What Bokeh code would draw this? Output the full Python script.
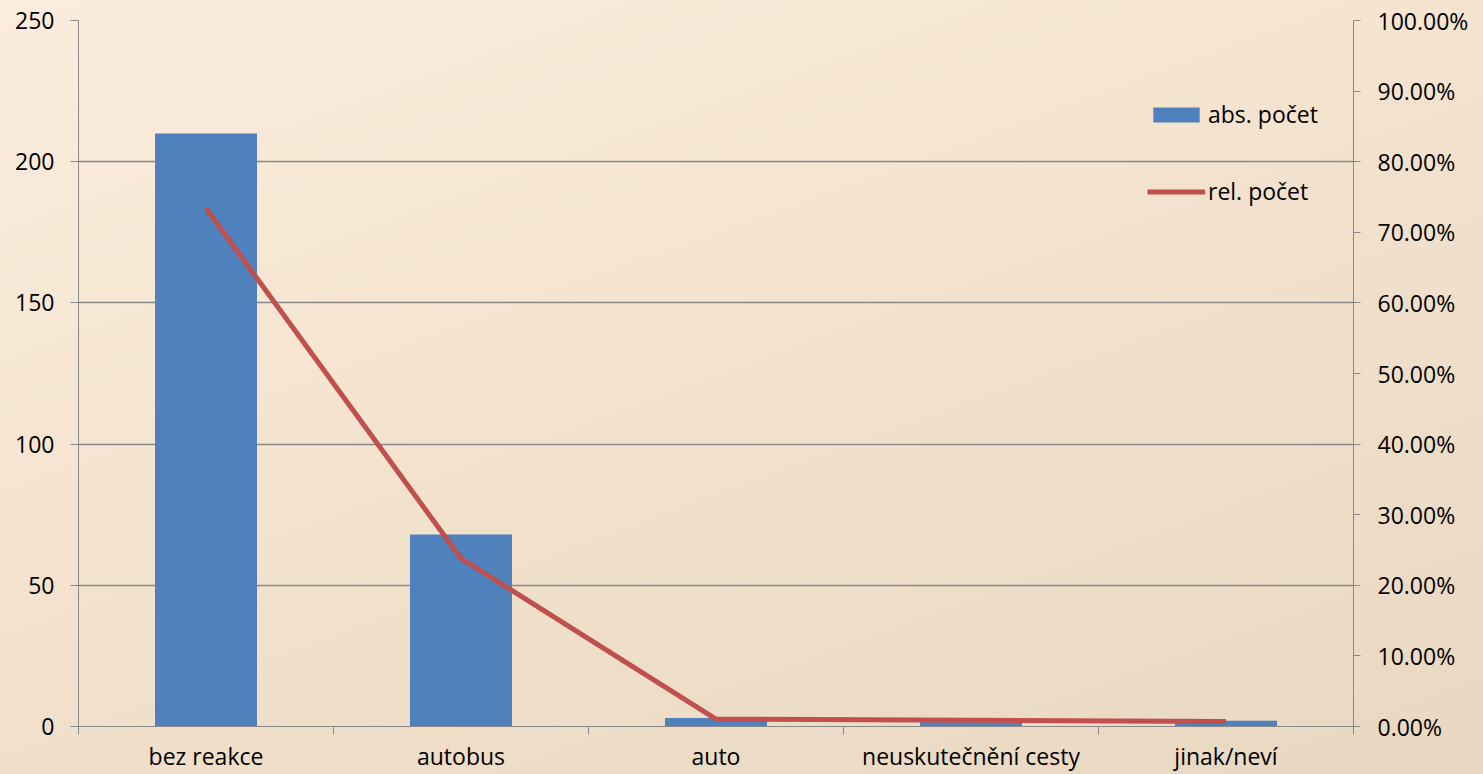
from bokeh.plotting import figure
from bokeh.models import (Range1d, LinearAxis, FixedTicker, NumeralTickFormatter,
                          ColumnDataSource, Legend, LegendItem)
from bokeh.embed import file_html
from bokeh.resources import INLINE

categories = ["bez reakce", "autobus", "auto", "neuskutečnění cesty", "jinak/neví"]
abs_pocet = [210, 68, 3, 2, 2]
rel_pocet = [0.734, 0.238, 0.0105, 0.0087, 0.007]
left_ticks = [0, 50, 100, 150, 200, 250]
right_ticks = [0, 0.1, 0.2, 0.3, 0.4, 0.5, 0.6, 0.7, 0.8, 0.9, 1.0]

xs = [i + 0.5 for i in range(len(categories))]
src = ColumnDataSource(dict(x=xs, abs=abs_pocet, rel=rel_pocet))

GRAY = "#898989"
FONT = "Open Sans"
FS = "23px"
p = figure(width=1483, height=774, output_backend="svg", toolbar_location=None,
           x_range=Range1d(0, len(categories)), y_range=Range1d(0, 250),
           min_border_left=78, min_border_right=130, min_border_top=20, min_border_bottom=48)
p.styles = {"background": "linear-gradient(160deg, #fcecdd 0%, #f2e2cd 50%, #e8d7c1 100%)"}
p.border_fill_color = None
p.background_fill_color = None
p.outline_line_color = None

p.extra_y_ranges = {"pct": Range1d(0, 1)}

bars = p.vbar(x="x", top="abs", width=0.4, source=src, fill_color="#4f81bd", line_color=None)
ln = p.line(x="x", y="rel", source=src, y_range_name="pct", line_color="#c0504d", line_width=5)

xa = p.xaxis[0]
xa.ticker = FixedTicker(ticks=xs, minor_ticks=[0, 1, 2, 3, 4, 5])
xa.major_label_overrides = {x: c for x, c in zip(xs, categories)}
xa.major_tick_out = 0
xa.major_tick_in = 0
xa.minor_tick_out = 8
xa.minor_tick_in = 0
xa.minor_tick_line_color = GRAY
xa.axis_line_color = GRAY
xa.major_label_standoff = 5
xa.major_label_text_font = FONT
xa.major_label_text_font_size = FS
xa.major_label_text_color = "black"

ya = p.yaxis[0]
ya.ticker = FixedTicker(ticks=left_ticks)
ya.axis_line_color = GRAY
ya.major_tick_line_color = GRAY
ya.major_tick_out = 8
ya.major_tick_in = 0
ya.minor_tick_line_color = None
ya.major_label_standoff = 16
ya.major_label_text_font = FONT
ya.major_label_text_font_size = FS
ya.major_label_text_color = "black"

ra = LinearAxis(y_range_name="pct", ticker=FixedTicker(ticks=right_ticks),
                formatter=NumeralTickFormatter(format="0.00%"))
ra.axis_line_color = GRAY
ra.major_tick_line_color = GRAY
ra.major_tick_out = 7
ra.major_tick_in = 0
ra.minor_tick_line_color = None
ra.major_label_standoff = 17
ra.major_label_text_font = FONT
ra.major_label_text_font_size = FS
ra.major_label_text_color = "black"
p.add_layout(ra, "right")

p.xgrid.grid_line_color = None
p.ygrid.ticker = FixedTicker(ticks=left_ticks)
p.ygrid.grid_line_color = GRAY
p.ygrid.grid_line_width = 1.5

legend = Legend(items=[LegendItem(label="abs. počet", renderers=[bars]),
                       LegendItem(label="rel. počet", renderers=[ln])],
                location=(1069, 519), orientation="vertical",
                glyph_width=58, glyph_height=19, spacing=45, padding=0, margin=0,
                label_standoff=3, border_line_color=None, background_fill_alpha=0,
                label_text_font=FONT, label_text_font_size=FS,
                label_text_color="black")
p.add_layout(legend)

open("out.html", "w").write(file_html(p, INLINE))
